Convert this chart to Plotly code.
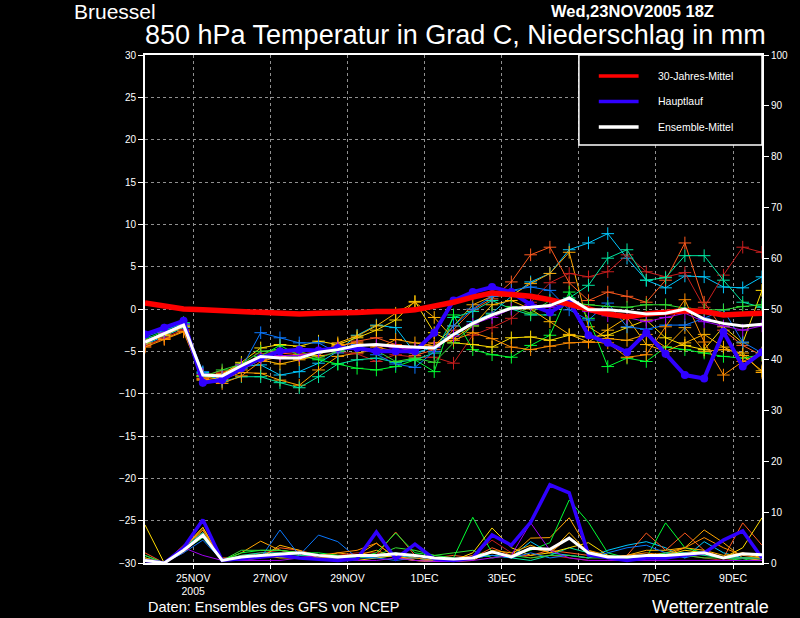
import pandas as pd
import plotly.graph_objs as go

# 12-hourly forecast steps, 23NOV2005 18Z .. 9DEC2005 18Z
times = pd.date_range("2005-11-23 18:00", periods=33, freq="12h")

# 850 hPa temperature (deg C) of the ensemble members
temp_members = {
    "#00c8ff": [-4.2, -3.2, -2.2, -7.6, -7.8, -6.8, -6.6, -7.8, -7.4, -6.4, -5.0, -3.1, -1.9, -2.2, -5.2, -4.5, -3.0,
                -1.5, -0.5, 1.5, 3.2, 4.2, 7.0, 7.8, 8.9, 6.0, 3.4, 2.5, 3.9, 3.8, 2.6, 2.5, 3.8],
    "#ffa500": [-4.3, -3.5, -2.6, -8.0, -8.3, -7.5, -7.6, -8.4, -9.0, -7.2, -5.6, -5.2, -4.8, -3.6, -4.0, -4.4, -2.0,
                0.5, 1.5, 1.6, 3.0, 4.2, 6.7, -2.1, -3.5, -3.7, -3.0, -4.5, -2.2, -5.0, -4.8, -5.2, -7.5],
    "#ff5a1e": [-4.0, -3.0, -2.0, -8.2, -7.6, -6.5, -5.6, -5.2, -5.4, -5.0, -4.5, -3.8, -3.4, -4.2, -5.5, -4.8, -2.5,
                -0.1, 1.2, 3.2, 6.4, 7.3, 3.1, 1.0, 2.0, 1.5, 0.8, 3.4, 7.8, 0.8, -2.5, -4.3, -5.5],
    "#c81e1e": [-4.4, -3.4, -2.4, -7.8, -7.4, -6.9, -5.3, -5.0, -5.2, -5.6, -5.1, -5.3, -6.2, -5.4, -5.7, -5.7, -6.4,
                -3.1, -2.2, -1.1, 0.8, 3.1, 4.2, 3.8, 4.4, 6.4, 4.4, 3.8, 4.3, 0.2, 4.0, 7.3, 6.7],
    "#00e6a0": [-3.8, -2.8, -1.8, -7.5, -8.6, -8.0, -8.0, -8.7, -9.3, -8.0, -6.5, -6.0, -5.8, -6.3, -6.0, -5.2, -1.0,
                -0.3, 1.0, 0.0, -0.7, -0.7, 1.3, 2.8, 6.0, 7.0, 3.4, 3.7, 6.3, 6.3, 3.4, 0.8, 0.2],
    "#00ff32": [-3.6, -2.6, -1.6, -7.9, -8.0, -6.8, -5.6, -4.3, -5.5, -6.0, -6.5, -7.0, -7.2, -6.8, -6.0, -7.4, -0.7,
                -4.8, -5.4, -5.7, -4.3, -3.1, 2.0, -1.1, -6.8, -5.8, -6.2, -4.5, -4.8, -5.2, -5.6, -5.8, -5.4],
    "#ffdc00": [-4.0, -3.1, -2.1, -7.9, -7.7, -6.3, -4.6, -4.2, -4.4, -3.8, -4.2, -3.4, -2.5, -1.3, 0.9, -2.8, -4.0,
                -4.2, -4.5, -3.4, -3.3, -3.7, -3.1, -3.3, -3.1, -2.2, -1.3, -3.4, -4.3, -4.8, -2.1, -4.0, 2.2],
    "#ffb400": [-3.7, -2.9, -2.0, -8.4, -8.1, -7.2, -6.0, -6.5, -6.0, -5.5, -4.0, -3.2, -2.0, -0.5, 0.8, -1.0, -3.5,
                -2.0, 0.5, 1.0, 0.0, -1.5, -3.0, -3.9, -2.5, -1.0, -4.2, -5.0, -4.0, -3.0, -4.5, -5.5, -7.3],
    "#0a78ff": [-3.3, -2.5, -1.7, -7.4, -8.5, -7.0, -2.8, -3.4, -4.0, -4.0, -5.2, -4.2, -5.4, -6.5, -6.9, -5.0, -2.0,
                0.0, 1.5, 2.2, 2.6, 2.2, -0.1, -1.3, 0.7, -2.1, -2.4, -1.9, -1.9, -1.1, -0.1, -3.9, -5.2],
    "#32dc32": [-3.9, -2.9, -1.9, -8.0, -7.2, -6.5, -5.0, -4.8, -5.0, -5.8, -5.0, -4.5, -4.9, -6.2, -5.8, -6.3, -4.0,
                -2.0, -0.6, 0.3, -0.5, 1.0, 0.8, 0.5, 0.3, 0.2, 0.5, 0.5, 0.1, -0.1, -0.1, 0.3, 0.5],
    "#ff8c00": [-4.5, -3.6, -2.7, -8.3, -8.8, -7.9, -6.2, -5.6, -5.8, -5.0, -4.3, -4.0, -4.5, -5.0, -4.6, -4.0, -3.7,
                -2.8, -3.5, -4.5, -4.8, -4.4, -4.0, -3.9, -4.0, -5.7, -5.4, -2.1, 1.1, -3.9, -7.8, -6.2, -5.2],
    "#a000f0": [-3.8, -2.8, -1.8, -7.7, -8.0, -6.6, -5.8, -5.5, -5.5, -5.0, -4.6, -4.3, -4.3, -4.6, -4.7, -4.5, -3.2,
                -1.8, -1.0, 0.0, 0.5, 0.2, 0.8, -0.3, -0.8, -1.0, -1.5, -1.0, -0.5, -1.5, -2.0, -2.5, -2.0],
}

# precipitation (mm) of the same members
prec_members = {
    "#00c8ff": [0.5, 0, 2.5, 5.0, 0.5, 1.0, 1.5, 1.2, 1.0, 0.8, 1.0, 1.2, 1.0, 1.5, 1.0, 0.5, 0.5,
                1.0, 1.5, 1.2, 4.2, 2.0, 1.5, 1.0, 2.5, 3.5, 4.2, 3.0, 1.0, 4.2, 2.0, 1.0, 0.5],
    "#ffa500": [1.0, 0, 3.0, 6.5, 0.5, 2.0, 4.3, 2.5, 2.0, 1.0, 2.0, 1.5, 3.9, 1.0, 0.5, 0.5, 0.3,
                1.0, 2.0, 1.5, 4.9, 5.0, 8.9, 2.5, 1.5, 1.0, 1.5, 2.0, 3.0, 6.5, 4.0, 1.0, 0.5],
    "#ff5a1e": [2.0, 0, 3.5, 6.0, 1.0, 1.0, 1.5, 3.0, 2.5, 1.5, 1.5, 1.5, 1.5, 6.1, 1.5, 1.0, 1.5,
                1.0, 3.0, 1.5, 1.5, 2.5, 2.0, 1.5, 1.0, 1.5, 5.9, 2.5, 5.9, 2.5, 1.0, 7.9, 3.5],
    "#c81e1e": [0.5, 0, 2.0, 5.5, 0.5, 1.5, 2.0, 2.5, 1.5, 1.0, 1.5, 2.0, 2.0, 1.5, 0.5, 0.3, 0.5,
                1.5, 4.5, 2.0, 1.0, 1.5, 1.0, 0.5, 0.5, 1.0, 1.5, 1.0, 1.5, 1.0, 0.5, 1.0, 1.0],
    "#00e6a0": [1.5, 0, 3.0, 6.0, 0.5, 1.5, 2.0, 2.0, 1.5, 1.5, 1.0, 1.0, 1.5, 2.0, 1.0, 0.5, 0.5,
                1.0, 1.5, 1.0, 0.5, 1.5, 3.0, 2.0, 1.5, 1.0, 1.0, 2.0, 2.0, 1.5, 1.0, 1.0, 1.0],
    "#00ff32": [1.0, 0, 2.5, 5.5, 0.5, 2.0, 2.5, 2.5, 2.0, 2.0, 1.5, 1.0, 2.0, 5.9, 2.0, 1.5, 1.0,
                9.0, 2.0, 1.5, 2.5, 4.0, 12.4, 8.0, 2.0, 1.0, 1.0, 7.9, 3.0, 2.0, 1.0, 0.5, 1.5],
    "#ffdc00": [7.5, 0, 3.0, 7.0, 0.5, 1.0, 1.5, 1.0, 1.0, 1.0, 0.5, 0.5, 1.0, 1.5, 0.5, 0.3, 0.5,
                2.0, 6.9, 3.0, 1.5, 2.0, 3.0, 4.0, 1.5, 0.5, 1.0, 1.5, 2.5, 2.0, 1.0, 3.0, 8.9],
    "#ffb400": [0.5, 0, 3.0, 7.0, 0.5, 0.5, 1.0, 3.5, 2.5, 1.0, 1.0, 1.5, 2.5, 1.0, 0.5, 0.3, 0.3,
                0.5, 2.5, 2.0, 3.5, 2.0, 6.0, 2.0, 1.0, 1.5, 2.5, 2.5, 3.0, 2.5, 1.5, 2.0, 1.0],
    "#0a78ff": [0.5, 0, 2.0, 4.5, 0.5, 1.0, 1.0, 6.5, 1.5, 5.5, 4.2, 1.0, 1.0, 0.5, 1.0, 0.5, 0.5,
                1.0, 1.5, 1.0, 2.0, 1.0, 1.5, 1.0, 2.0, 3.0, 3.5, 2.0, 1.0, 2.0, 1.0, 1.0, 1.0],
    "#32dc32": [1.5, 0, 2.5, 5.0, 0.5, 2.5, 2.5, 2.5, 2.0, 1.5, 1.5, 1.0, 1.5, 3.0, 2.5, 1.5, 2.0,
                2.5, 1.0, 1.5, 1.0, 1.5, 1.5, 1.0, 1.0, 1.0, 1.0, 2.0, 1.5, 1.0, 1.0, 1.0, 1.0],
    "#ff8c00": [1.0, 0, 3.0, 6.5, 0.5, 1.0, 1.5, 1.5, 2.0, 1.5, 2.0, 2.5, 3.9, 1.0, 1.0, 0.5, 0.5,
                1.5, 2.0, 1.5, 3.0, 2.0, 5.0, 2.5, 1.0, 1.5, 2.0, 1.5, 3.0, 5.0, 3.0, 1.5, 1.0],
    "#a000f0": [0.5, 0, 3.0, 1.5, 0.5, 0.5, 0.5, 0.5, 1.0, 1.5, 1.0, 0.5, 0.5, 1.0, 0.5, 0.3, 0.3,
                0.5, 1.0, 1.5, 7.9, 2.5, 1.0, 0.5, 0.5, 0.5, 0.5, 0.5, 0.5, 0.5, 0.5, 0.5, 0.5],
}

# Hauptlauf (operational run)
temp_main = [-3.0, -2.2, -1.4, -8.7, -8.4, -7.0, -5.8, -5.0, -4.8, -4.9, -4.6, -4.6, -5.0, -5.0, -5.0, -2.8, 1.0,
             2.0, 2.6, 2.0, 0.5, -0.4, 0.9, -3.1, -4.0, -5.1, -2.8, -5.3, -7.8, -8.2, -2.7, -6.8, -5.1]
prec_main = [0.5, 0, 3.0, 8.5, 0.5, 0.8, 1.2, 1.5, 1.0, 0.8, 0.5, 0.8, 6.1, 0.8, 3.7, 0.8, 0.5,
             1.0, 5.5, 3.5, 8.0, 15.4, 13.8, 1.6, 1.0, 0.5, 1.0, 1.0, 1.5, 2.0, 4.5, 6.3, 1.0]

# ensemble mean
temp_mean = [-3.9, -2.9, -1.9, -7.8, -7.9, -6.7, -5.6, -5.8, -5.8, -5.1, -4.8, -4.3, -4.2, -4.4, -4.5, -4.6, -3.0,
             -1.7, -0.7, 0.1, 0.2, 0.4, 1.3, -0.1, -0.1, -0.3, -0.6, -0.5, 0.0, -1.2, -1.7, -2.0, -1.8]
prec_mean = [0.5, 0, 2.5, 5.5, 0.5, 1.2, 1.5, 1.8, 2.0, 1.5, 1.2, 1.5, 1.5, 1.8, 1.5, 1.0, 0.8,
             1.0, 2.2, 1.2, 2.9, 2.7, 4.9, 2.0, 1.2, 1.2, 1.5, 1.5, 1.8, 2.0, 1.0, 1.8, 1.6]

# 30 year climatology
temp_clim = [0.7, 0.4, 0.0, -0.1, -0.2, -0.4, -0.5, -0.6, -0.6, -0.5, -0.5, -0.4, -0.3, -0.3, -0.1, 0.3, 0.8,
             1.4, 1.9, 1.7, 1.5, 1.1, 0.6, 0.0, -0.6, -0.9, -0.6, -0.4, -0.2, -0.3, -0.7, -0.6, -0.5]

tick_dates = ["2005-11-25", "2005-11-27", "2005-11-29", "2005-12-01", "2005-12-03",
              "2005-12-05", "2005-12-07", "2005-12-09"]
tick_labels = ["25NOV<br>2005", "27NOV", "29NOV", "1DEC", "3DEC", "5DEC", "7DEC", "9DEC"]

legend_names = ["30-Jahres-Mittel", "Hauptlauf", "Ensemble-Mittel"]
legend_colors = ["#ff0000", "#3000ff", "#ffffff"]

FONT = "Liberation Sans"

fig = go.Figure()

# precipitation on the right axis
for col, vals in prec_members.items():
    fig.add_trace(go.Scatter(x=times, y=vals, yaxis="y2", mode="lines",
                             line=dict(color=col, width=1), showlegend=False, hoverinfo="skip"))
fig.add_trace(go.Scatter(x=times, y=prec_main, yaxis="y2", mode="lines",
                         line=dict(color="#3000ff", width=3.5), showlegend=False))
fig.add_trace(go.Scatter(x=times, y=prec_mean, yaxis="y2", mode="lines",
                         line=dict(color="#ffffff", width=3), showlegend=False))

# temperature
for col, vals in temp_members.items():
    fig.add_trace(go.Scatter(x=times, y=vals, mode="lines+markers",
                             line=dict(color=col, width=1),
                             marker=dict(symbol="cross-thin", size=9, line=dict(width=1, color=col)),
                             showlegend=False))
fig.add_trace(go.Scatter(x=times, y=temp_main, mode="lines+markers",
                         line=dict(color="#3000ff", width=4),
                         marker=dict(symbol="circle", size=8, color="#3000ff"),
                         name="Hauptlauf", showlegend=False))
fig.add_trace(go.Scatter(x=times, y=temp_clim, mode="lines",
                         line=dict(color="#ff0000", width=5.5), name="30-Jahres-Mittel", showlegend=False))
fig.add_trace(go.Scatter(x=times, y=temp_mean, mode="lines",
                         line=dict(color="#ffffff", width=3), name="Ensemble-Mittel", showlegend=False))


def px_x(x):
    return (x - 145) / 620.0


def px_y(y):
    return (563 - y) / 508.0


# hand made legend box in the upper right corner
shapes = [dict(type="rect", xref="paper", yref="paper", x0=px_x(581), x1=1.0, y0=px_y(145), y1=1.0,
               fillcolor="black", line=dict(color="white", width=1.5), layer="above")]
annotations = []
for k, (name, col) in enumerate(zip(legend_names, legend_colors)):
    yy = px_y(76 + 25.5 * k)
    shapes.append(dict(type="line", xref="paper", yref="paper", x0=px_x(601), x1=px_x(641), y0=yy, y1=yy,
                       line=dict(color=col, width=3.5), layer="above"))
    annotations.append(dict(xref="paper", yref="paper", x=px_x(658), y=yy, text=name, showarrow=False,
                            xanchor="left", yanchor="middle", font=dict(family=FONT, size=10.5, color="white")))

annotations += [
    dict(xref="paper", yref="paper", x=px_x(72), y=px_y(-2), text="Bruessel", showarrow=False,
         xanchor="left", yanchor="top", font=dict(family=FONT, size=21, color="white")),
    dict(xref="paper", yref="paper", x=px_x(143), y=px_y(35), showarrow=False,
         text="850 hPa Temperatur in Grad C, Niederschlag in mm",
         xanchor="left", yanchor="middle", font=dict(family=FONT, size=27, color="white")),
    dict(xref="paper", yref="paper", x=px_x(635), y=px_y(0), text="<b>Wed,23NOV2005 18Z</b>", showarrow=False,
         xanchor="center", yanchor="top", font=dict(family=FONT, size=16.5, color="white")),
    dict(xref="paper", yref="paper", x=px_x(146), y=px_y(607), text="Daten: Ensembles des GFS von NCEP",
         showarrow=False, xanchor="left", yanchor="middle", font=dict(family=FONT, size=14.5, color="white")),
    dict(xref="paper", yref="paper", x=px_x(774), y=px_y(607), text="Wetterzentrale", showarrow=False,
         xanchor="right", yanchor="middle", font=dict(family=FONT, size=18, color="white")),
]

fig.update_layout(
    width=800, height=618,
    margin=dict(l=145, r=35, t=55, b=55),
    paper_bgcolor="black", plot_bgcolor="black",
    font=dict(family=FONT, color="white", size=10),
    showlegend=False,
    shapes=shapes, annotations=annotations,
    xaxis=dict(range=[times[0], times[-1]], tickvals=tick_dates, ticktext=tick_labels,
               showline=True, linecolor="white", linewidth=2, mirror=True,
               ticks="outside", ticklen=4, tickcolor="white",
               showgrid=True, gridcolor="#909090", griddash="dot", gridwidth=1,
               zeroline=False, tickfont=dict(size=10.5, color="white")),
    yaxis=dict(range=[-30, 30], tickvals=list(range(-30, 31, 5)),
               showline=True, linecolor="white", linewidth=2,
               ticks="outside", ticklen=5, tickcolor="white",
               showgrid=True, gridcolor="#909090", griddash="dot", gridwidth=1,
               zeroline=False, tickfont=dict(size=10, color="white")),
    yaxis2=dict(range=[0, 100], tickvals=list(range(0, 101, 10)), overlaying="y", side="right",
                showline=True, linecolor="white", linewidth=2,
                ticks="outside", ticklen=5, tickcolor="white",
                showgrid=False, zeroline=False, tickfont=dict(size=10, color="white")),
)

# the page has a default body margin of 8px, remove it so the figure fills the window
fig.write_html("out.html", config={"displayModeBar": False},
               post_script="document.body.style.margin='0';")
